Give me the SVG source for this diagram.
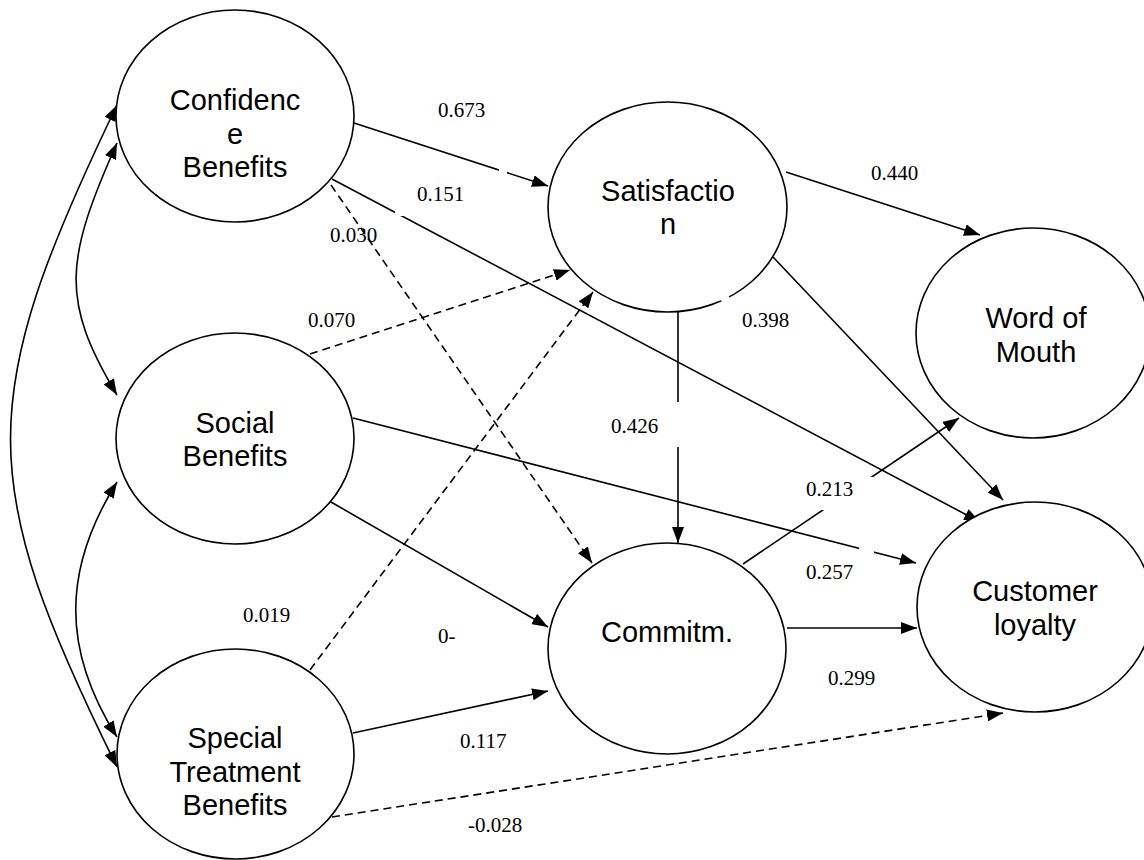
<svg xmlns="http://www.w3.org/2000/svg" width="1144" height="860" viewBox="0 0 1144 860">
<style>
.node ellipse{fill:#fff;stroke:#000;stroke-width:1.6}
.node text{font-family:"Liberation Sans",Arial,sans-serif;font-size:29px;text-anchor:middle;fill:#000}
.c{fill:none;stroke:#000;stroke-width:1.6;marker-end:url(#ah)}
.d{stroke-dasharray:8,5}
.bi{marker-start:url(#ah)}
.lbl{font-family:"Liberation Serif","Times New Roman",serif;font-size:21px;fill:#000}
.gap{fill:#fff;stroke:none}
</style>
<defs>
<marker id="ah" viewBox="0 0 16 12" refX="16" refY="6" markerWidth="16" markerHeight="12" markerUnits="userSpaceOnUse" orient="auto-start-reverse">
<path d="M0,0 L16,6 L0,12 z" fill="#000"/>
</marker>
</defs>
<rect width="1144" height="860" fill="#fff"/>
<g id="connectors">
<path class="c" d="M354,123 L548,186"/>
<path class="c" d="M332,179 L980,522"/>
<path class="c d" d="M331,185 L592,563"/>
<path class="c d" d="M310,354 L570,270"/>
<path class="c" d="M353,418 L916,563"/>
<path class="c" d="M331,502 L548,627"/>
<path class="c d" d="M310,670 L593,292"/>
<path class="c" d="M353,733 L548,691"/>
<path class="c d" d="M332,817 L1003,713"/>
<path class="c" d="M786,172 L980,235"/>
<path class="c" d="M773,257 L1003,500"/>
<path class="c" d="M678,312 L678,543"/>
<path class="c" d="M743,564 L959,418"/>
<path class="c" d="M787,628 L917,628"/>
<path class="c bi" d="M117,105 C-25,400 -25,480 117,767"/>
<path class="c bi" d="M117,143 C65,260 60,300 117,395"/>
<path class="c bi" d="M117,482 C62,570 62,650 117,737"/>
</g>
<g id="labels">
<rect class="gap" x="499" y="167" width="8" height="10"/>
<rect class="gap" x="395" y="180" width="75" height="36"/>
<rect class="gap" x="605" y="402" width="77" height="45"/>
<rect class="gap" x="800" y="477" width="80" height="33"/>
<rect class="gap" x="859" y="544" width="15" height="12"/>
<text class="lbl" x="438" y="117">0.673</text>
<text class="lbl" x="417" y="201">0.151</text>
<text class="lbl" x="330" y="242">0.030</text>
<text class="lbl" x="308" y="327">0.070</text>
<text class="lbl" x="871" y="180">0.440</text>
<text class="lbl" x="742" y="327">0.398</text>
<text class="lbl" x="611" y="433">0.426</text>
<text class="lbl" x="806" y="496">0.213</text>
<text class="lbl" x="806" y="579">0.257</text>
<text class="lbl" x="243" y="622">0.019</text>
<text class="lbl" x="438" y="643">0-</text>
<text class="lbl" x="828" y="685">0.299</text>
<text class="lbl" x="460" y="748">0.117</text>
<text class="lbl" x="468" y="832">-0.028</text>
</g>
<g id="confidence" class="node">
<ellipse cx="235" cy="116" rx="119" ry="106"/>
<text x="235" y="110">Confidenc</text>
<text x="235" y="144">e</text>
<text x="235" y="177">Benefits</text>
</g>
<g id="social" class="node">
<ellipse cx="235" cy="438.5" rx="119" ry="105.5"/>
<text x="235" y="433">Social</text>
<text x="235" y="466">Benefits</text>
</g>
<g id="special" class="node">
<ellipse cx="235.5" cy="754" rx="118.5" ry="105"/>
<text x="235" y="748">Special</text>
<text x="235" y="782">Treatment</text>
<text x="235" y="815">Benefits</text>
</g>
<g id="satisfaction" class="node">
<ellipse cx="667.5" cy="207" rx="119.5" ry="105"/>
<text x="668" y="201">Satisfactio</text>
<text x="668" y="234">n</text>
</g>
<g id="commitment" class="node">
<ellipse cx="667" cy="648.5" rx="119" ry="105.5"/>
<text x="667" y="642">Commitm.</text>
</g>
<g id="wom" class="node">
<ellipse cx="1033" cy="333" rx="117" ry="105"/>
<text x="1036" y="328">Word of</text>
<text x="1036" y="362">Mouth</text>
</g>
<g id="loyalty" class="node">
<ellipse cx="1035" cy="607" rx="118" ry="105"/>
<text x="1035" y="601">Customer</text>
<text x="1035" y="635">loyalty</text>
</g>
<rect class="gap" x="721" y="293" width="8" height="8"/>
</svg>
